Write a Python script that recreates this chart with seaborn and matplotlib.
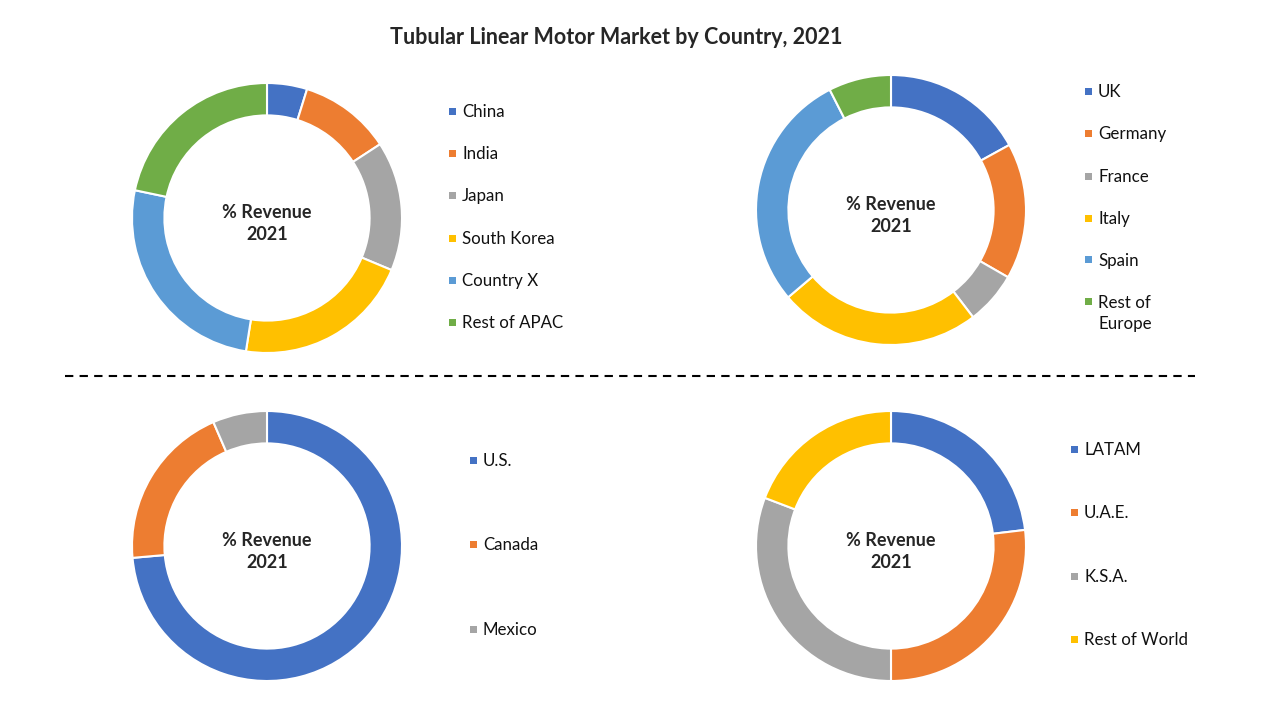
import matplotlib
matplotlib.use("Agg")
import matplotlib.pyplot as plt
import seaborn as sns
from matplotlib.patches import Rectangle
from matplotlib.lines import Line2D

# donut data (% revenue share)
apac_labels = ["China", "India", "Japan", "South Korea", "Country X", "Rest of APAC"]
apac_values = [4.8, 11.0, 15.5, 21.2, 25.8, 21.7]

europe_labels = ["UK", "Germany", "France", "Italy", "Spain", "Rest of\nEurope"]
europe_values = [17.0, 16.3, 6.3, 24.2, 28.7, 7.5]

na_labels = ["U.S.", "Canada", "Mexico"]
na_values = [73.6, 19.9, 6.5]

mea_labels = ["LATAM", "U.A.E.", "K.S.A.", "Rest of World"]
mea_values = [23.1, 26.9, 30.8, 19.2]

palette = ["#4472C4", "#ED7D31", "#A5A5A5", "#FFC000", "#5B9BD5", "#70AD47"]

sns.set_theme(style="white")
plt.rcParams["font.family"] = ["Lato", "DejaVu Sans"]

W, H = 1280, 720
fig = plt.figure(figsize=(W / 100, H / 100), dpi=100)
fig.patch.set_facecolor("white")


def donut(cx, cy, r, values):
    ax = fig.add_axes([(cx - r) / W, 1 - (cy + r) / H, 2 * r / W, 2 * r / H])
    ax.pie(values, colors=palette[:len(values)], startangle=90, counterclock=False,
           radius=1, wedgeprops=dict(width=0.24, edgecolor="white", linewidth=1.5))
    ax.set_xlim(-1.0, 1.0)
    ax.set_ylim(-1.0, 1.0)
    ax.set_aspect("equal")
    ax.axis("off")
    ax.text(0, -0.04, "% Revenue\n2021", ha="center", va="center", fontsize=13,
            fontweight="bold", linespacing=1.4)
    return ax


def legend(x, ys, labels):
    for i, (y, lab) in enumerate(zip(ys, labels)):
        fig.add_artist(Rectangle(((x - 3.5) / W, 1 - (y + 3.5) / H), 7 / W, 7 / H,
                                 transform=fig.transFigure, color=palette[i], lw=0))
        fig.text((x + 10) / W, 1 - (y - 7) / H, lab, ha="left", va="top",
                 fontsize=12.2, color="#111111", linespacing=1.35)


donut(267, 218, 135, apac_values)
donut(891, 210, 135, europe_values)
donut(267, 546, 135, na_values)
donut(891, 546, 135, mea_values)

legend(452, [111, 153, 195, 238, 280, 322], apac_labels)
legend(1088, [91, 133, 176, 218, 260, 302], europe_labels)
legend(473, [460, 544, 629], na_labels)
legend(1074, [449, 512, 576, 639], mea_labels)

fig.add_artist(Line2D([65 / W, 1195 / W], [1 - 376 / H, 1 - 376 / H],
                      transform=fig.transFigure, color="black", lw=1.5,
                      linestyle=(0, (4, 3))))

fig.text(616 / W, 1 - 38 / H, "Tubular Linear Motor Market by Country, 2021",
         ha="center", va="center", fontsize=15.5, fontweight="bold")

fig.savefig("out.png", dpi=100)
